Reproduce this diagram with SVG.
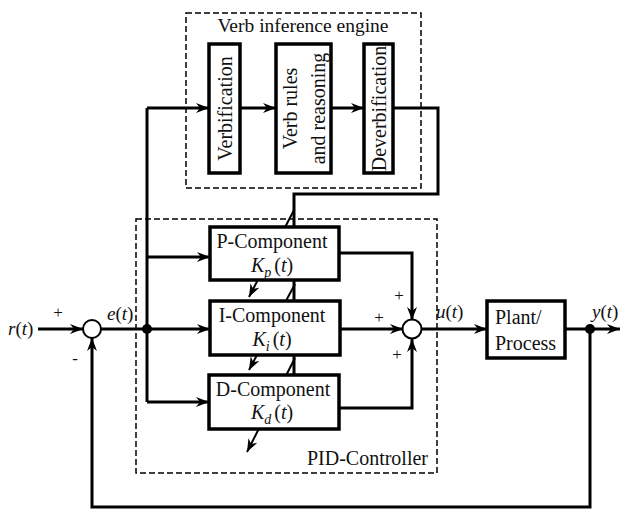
<svg xmlns="http://www.w3.org/2000/svg" width="620" height="510" viewBox="0 0 620 510">
<defs>
<style>
text{font-family:"Liberation Serif","Times New Roman",serif;font-size:20px;fill:#111}
.it{font-style:italic}
.box{fill:#fff;stroke:#000;stroke-width:3.5}
.dash{fill:none;stroke:#000;stroke-width:1.5;stroke-dasharray:6,3}
.ln{fill:none;stroke:#000;stroke-width:3}
.ar{marker-end:url(#ah)}
.sum{fill:#fff;stroke:#000;stroke-width:2}
.dot{fill:#000}
.pm{font-size:17px}
</style>
<marker id="ah" markerUnits="userSpaceOnUse" markerWidth="14" markerHeight="10" refX="13" refY="5" orient="auto">
<path d="M0,0 L13,5 L0,10 L4,5 z" fill="#000"/>
</marker>
</defs>
<rect width="620" height="510" fill="#fff"/>

<g id="connectors">
<line class="ln ar" x1="38" y1="329" x2="83" y2="329"/>
<line class="ln ar" x1="101" y1="329" x2="210" y2="329"/>
<polyline class="ln" points="147,402 147,108"/>
<polyline class="ln ar" points="147,108 209,108"/>
<line class="ln ar" x1="240" y1="108" x2="276" y2="108"/>
<line class="ln ar" x1="331" y1="108" x2="364" y2="108"/>
<polyline class="ln" points="393,108 438,108 438,194 294,194 294,227"/>
<line class="ln" x1="294" y1="280" x2="294" y2="301"/>
<line class="ln" x1="294" y1="355" x2="294" y2="375"/>
<line class="ln ar" x1="147" y1="257" x2="210" y2="257"/>
<polyline class="ln ar" points="147,402 209,402"/>
<polyline class="ln ar" points="339,253 412,253 412,320"/>
<line class="ln ar" x1="340" y1="329" x2="403" y2="329"/>
<polyline class="ln ar" points="339,408 412,408 412,339"/>
<line class="ln ar" x1="421" y1="329" x2="487" y2="329"/>
<line class="ln ar" x1="565" y1="329" x2="620" y2="329"/>
<polyline class="ln ar" points="590,329 590,507 92,507 92,338"/>
<line class="ln ar" x1="294" y1="210" x2="249" y2="297" style="stroke-width:2"/>
<line class="ln ar" x1="295" y1="284" x2="249" y2="370" style="stroke-width:2"/>
<line class="ln ar" x1="295" y1="358" x2="247" y2="452" style="stroke-width:2"/>
</g>

<g id="verb-engine">
<rect class="dash" x="186" y="13" width="235" height="175"/>
<text x="303" y="32" text-anchor="middle" style="font-size:19.5px">Verb inference engine</text>
</g>
<g id="verbification">
<rect class="box" x="209" y="44" width="31" height="129"/>
<text transform="rotate(-90 224.5 108.5)" x="224.5" y="115.5" text-anchor="middle">Verbification</text>
</g>
<g id="verb-rules">
<rect class="box" x="276" y="44" width="55" height="129"/>
<text transform="rotate(-90 303.5 108.5)" x="303.5" y="102" text-anchor="middle">Verb rules</text>
<text transform="rotate(-90 303.5 108.5)" x="303.5" y="130" text-anchor="middle">and reasoning</text>
</g>
<g id="deverbification">
<rect class="box" x="364" y="44" width="29" height="129"/>
<text transform="rotate(-90 378.5 108.5)" x="378.5" y="115.5" text-anchor="middle">Deverbification</text>
</g>

<g id="pid-controller">
<rect class="dash" x="136" y="219" width="301" height="254"/>
<text x="428" y="465" text-anchor="end">PID-Controller</text>
</g>
<g id="p-component">
<rect class="box" x="210" y="227" width="129" height="53"/>
<text x="272" y="248" text-anchor="middle">P-Component</text>
<text x="272" y="272" text-anchor="middle"><tspan class="it">K</tspan><tspan class="it" font-size="14" dy="5">p</tspan><tspan dy="-5" dx="3">(</tspan><tspan class="it">t</tspan>)</text>
</g>
<g id="i-component">
<rect class="box" x="210" y="301" width="130" height="54"/>
<text x="272" y="322" text-anchor="middle">I-Component</text>
<text x="272" y="346" text-anchor="middle"><tspan class="it">K</tspan><tspan class="it" font-size="14" dy="5">i</tspan><tspan dy="-5" dx="3">(</tspan><tspan class="it">t</tspan>)</text>
</g>
<g id="d-component">
<rect class="box" x="209" y="375" width="130" height="54"/>
<text x="273" y="396" text-anchor="middle">D-Component</text>
<text x="272" y="419" text-anchor="middle"><tspan class="it">K</tspan><tspan class="it" font-size="14" dy="5">d</tspan><tspan dy="-5" dx="3">(</tspan><tspan class="it">t</tspan>)</text>
</g>
<g id="sum1">
<circle class="sum" cx="92" cy="329" r="9"/>
<text class="pm" x="58" y="318" text-anchor="middle">+</text>
<text class="pm" x="75" y="364" text-anchor="middle">-</text>
</g>
<g id="sum2">
<circle class="sum" cx="412" cy="329" r="9.5"/>
<text class="pm" x="399" y="301" text-anchor="middle">+</text>
<text class="pm" x="379" y="323" text-anchor="middle">+</text>
<text class="pm" x="397" y="360" text-anchor="middle">+</text>
</g>
<g id="junction-e">
<circle class="dot" cx="147" cy="329" r="5"/>
</g>
<g id="junction-y">
<circle class="dot" cx="590" cy="329" r="5"/>
</g>
<g id="plant">
<rect class="box" x="487" y="301" width="78" height="57"/>
<text x="495" y="324">Plant/</text>
<text x="495" y="350">Process</text>
</g>
<g id="labels">
<text x="8" y="335" style="font-size:19px"><tspan class="it">r</tspan>(<tspan class="it">t</tspan>)</text>
<text x="107" y="320" style="font-size:19px"><tspan class="it">e</tspan>(<tspan class="it">t</tspan>)</text>
<text x="436" y="318" style="font-size:19px"><tspan class="it">u</tspan>(<tspan class="it">t</tspan>)</text>
<text x="592" y="318" style="font-size:19px"><tspan class="it">y</tspan>(<tspan class="it">t</tspan>)</text>
</g>
</svg>
